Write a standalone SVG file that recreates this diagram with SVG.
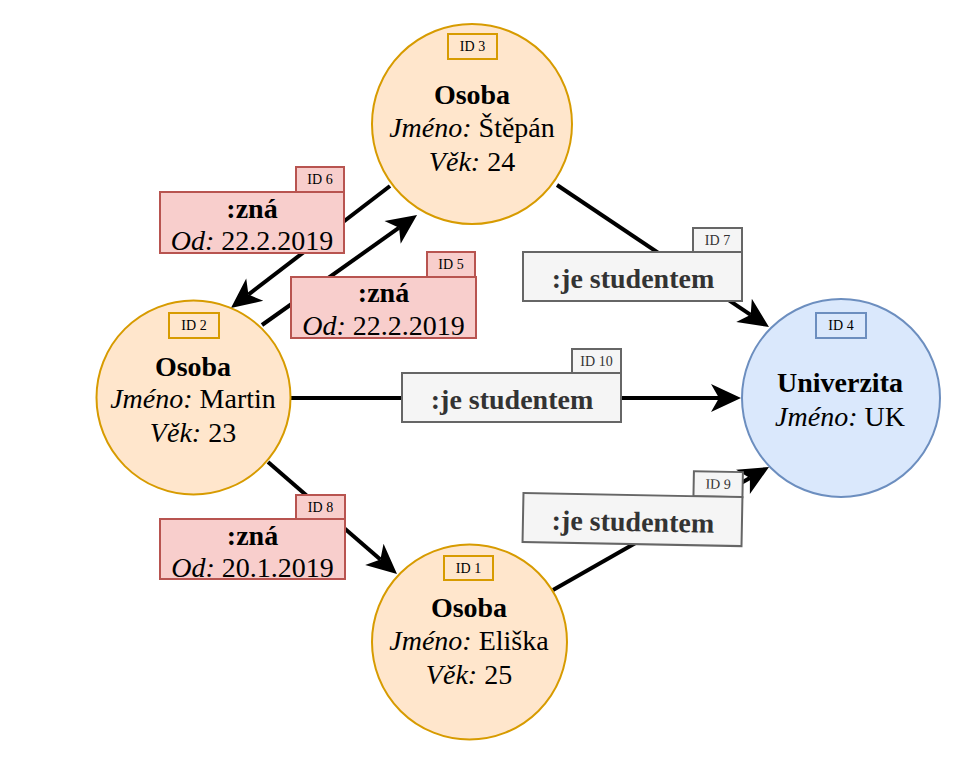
<svg xmlns="http://www.w3.org/2000/svg" width="976" height="759" viewBox="0 0 976 759">
<defs>
<marker id="arr" markerUnits="userSpaceOnUse" markerWidth="30" markerHeight="28" refX="8" refY="14" orient="auto" overflow="visible">
<path d="M0,0 L30,14 L0,28 L8,14 z" fill="#000"/>
</marker>
</defs>
<style>
.osoba{fill:#ffe6cc;stroke:#d79b00;stroke-width:2}
.uni{fill:#dae8fc;stroke:#6c8ebf;stroke-width:2}
.rel{fill:#f8cecc;stroke:#b85450;stroke-width:2}
.stud{fill:#f5f5f5;stroke:#666666;stroke-width:2}
.main{font-family:"Liberation Serif",serif;font-size:28px;fill:#000;text-anchor:middle}
.b{font-weight:bold}
.i{font-style:italic}
.id{font-family:"Liberation Serif",serif;font-size:14px;fill:#000;text-anchor:middle}
.sl{font-family:"Liberation Serif",serif;font-size:28px;font-weight:bold;fill:#333333;text-anchor:middle}
.sid{font-family:"Liberation Serif",serif;font-size:14px;fill:#333333;text-anchor:middle}
.edge{fill:none;stroke:#000;stroke-width:4;marker-end:url(#arr)}
</style>
<rect width="976" height="759" fill="#ffffff"/>

<g id="connectors">
<path class="edge" d="M390,186 L248.4,294.6"/>
<path class="edge" d="M262,325 L399.1,227.7"/>
<path class="edge" d="M557,185 L750.7,314.8"/>
<path class="edge" d="M291,398 L719,398"/>
<path class="edge" d="M268,462 L380.4,559.6"/>
<path class="edge" d="M553,590 L749.9,477.9"/>
</g>

<g id="node-id3">
<circle class="osoba" cx="472" cy="124" r="100"/>
<rect x="448" y="34" width="49" height="25" fill="none" stroke="#d79b00" stroke-width="2"/>
<text class="id" x="472.5" y="51">ID 3</text>
<text class="main b" x="472" y="104">Osoba</text>
<text class="main" x="472" y="137"><tspan class="i">Jméno:</tspan> Štěpán</text>
<text class="main" x="472" y="171"><tspan class="i">Věk:</tspan> 24</text>
</g>

<g id="node-id2">
<circle class="osoba" cx="193.5" cy="397.5" r="97"/>
<rect x="169" y="313" width="50" height="25" fill="none" stroke="#d79b00" stroke-width="2"/>
<text class="id" x="194" y="330">ID 2</text>
<text class="main b" x="193" y="376">Osoba</text>
<text class="main" x="193" y="408"><tspan class="i">Jméno:</tspan> Martin</text>
<text class="main" x="193" y="442"><tspan class="i">Věk:</tspan> 23</text>
</g>

<g id="node-id1">
<circle class="osoba" cx="469.5" cy="642" r="97.5"/>
<rect x="444" y="556" width="49" height="24" fill="none" stroke="#d79b00" stroke-width="2"/>
<text class="id" x="468.5" y="573">ID 1</text>
<text class="main b" x="469" y="617">Osoba</text>
<text class="main" x="469" y="650"><tspan class="i">Jméno:</tspan> Eliška</text>
<text class="main" x="469" y="684"><tspan class="i">Věk:</tspan> 25</text>
</g>

<g id="node-id4">
<circle class="uni" cx="841" cy="398" r="99"/>
<rect x="816" y="313" width="50" height="25" fill="none" stroke="#6c8ebf" stroke-width="2"/>
<text class="id" x="841" y="330">ID 4</text>
<text class="main b" x="840" y="392">Univerzita</text>
<text class="main" x="840" y="426"><tspan class="i">Jméno:</tspan> UK</text>
</g>

<g id="label-id6">
<rect class="rel" x="296" y="167" width="48" height="25"/>
<text class="id" x="320" y="184">ID 6</text>
<rect class="rel" x="160" y="192" width="184" height="61"/>
<text class="main b" x="252" y="218">:zná</text>
<text class="main" x="252" y="250"><tspan class="i">Od:</tspan> 22.2.2019</text>
</g>

<g id="label-id5">
<rect class="rel" x="427" y="252" width="48" height="25"/>
<text class="id" x="451" y="269">ID 5</text>
<rect class="rel" x="291" y="277" width="185" height="61"/>
<text class="main b" x="383.5" y="302">:zná</text>
<text class="main" x="383.5" y="335"><tspan class="i">Od:</tspan> 22.2.2019</text>
</g>

<g id="label-id8">
<rect class="rel" x="296" y="495" width="49" height="24"/>
<text class="id" x="320.5" y="512">ID 8</text>
<rect class="rel" x="160" y="519" width="185" height="60"/>
<text class="main b" x="252.5" y="545">:zná</text>
<text class="main" x="252.5" y="577"><tspan class="i">Od:</tspan> 20.1.2019</text>
</g>

<g id="label-id7">
<rect class="stud" x="693" y="228" width="49" height="24"/>
<text class="sid" x="717.5" y="245">ID 7</text>
<rect class="stud" x="523" y="252" width="219" height="49"/>
<text class="sl" x="633" y="288">:je studentem</text>
</g>

<g id="label-id10">
<rect class="stud" x="572" y="349" width="49" height="24"/>
<text class="sid" x="596.5" y="366">ID 10</text>
<rect class="stud" x="402" y="373" width="219" height="49"/>
<text class="sl" x="512" y="409">:je studentem</text>
</g>

<g id="label-id9" transform="rotate(1.1 632 519)">
<rect class="stud" x="693" y="470" width="49" height="25"/>
<text class="sid" x="717.5" y="487">ID 9</text>
<rect class="stud" x="523" y="495" width="219" height="49"/>
<text class="sl" x="633" y="531">:je studentem</text>
</g>
</svg>
